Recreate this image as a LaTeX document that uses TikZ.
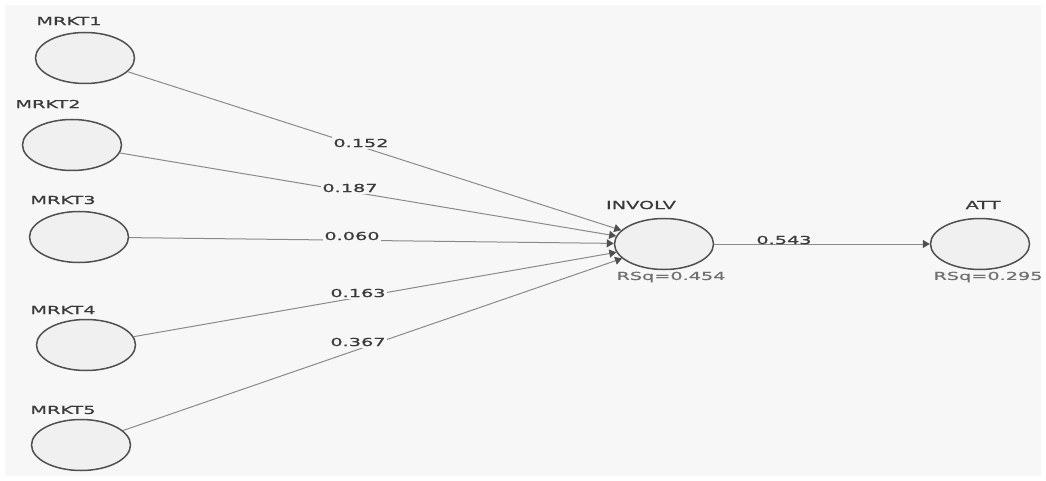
\documentclass[tikz,border=0pt]{standalone}
\usepackage{fontspec}
\newfontfamily\pathfont[FakeStretch=1.75,FakeBold=0.9]{DejaVu Sans}
\usetikzlibrary{shapes.geometric,arrows.meta}
\definecolor{canvas}{HTML}{F7F7F7}
\definecolor{bubble}{HTML}{F0F0F0}
\definecolor{rim}{HTML}{505050}
\definecolor{wire}{HTML}{8A8A8A}
\definecolor{ink}{HTML}{3A3A3A}
\definecolor{rsq}{HTML}{707070}
\tikzset{
  latent/.style={ellipse, draw=rim, fill=bubble, line width=1.5pt,
    minimum width=99pt, minimum height=51pt, inner sep=0pt},
  caption/.style={font=\pathfont\fontsize{11}{12}\selectfont, text=ink, inner sep=1pt},
  rsqlabel/.style={font=\pathfont\fontsize{11}{12}\selectfont, text=rsq, inner sep=1pt},
  coef/.style={font=\pathfont\fontsize{11}{12}\selectfont, text=ink, fill=canvas, inner sep=1.5pt},
  path/.style={draw=wire, line width=1pt,
    -{Triangle[length=7pt,width=8pt,color=rim]}}
}
\begin{document}
\begin{tikzpicture}[x=1pt,y=-1pt]
\useasboundingbox (0,0) rectangle (1046,481);
\fill[white] (0,0) rectangle (1046,481);
\fill[canvas] (5,5) rectangle (1041,476);

% constructs
\node[latent] (m1)  at (85,58)   {};
\node[latent] (m2)  at (72,145)  {};
\node[latent] (m3)  at (79,237)  {};
\node[latent] (m4)  at (86,345)  {};
\node[latent] (m5)  at (81,445)  {};
\node[latent] (inv) at (664,244) {};
\node[latent] (att) at (980,244) {};

% construct names
\node[caption] (t1)   at (69,21)   {MRKT1};
\node[caption] (t2)   at (48,104)  {MRKT2};
\node[caption] (t3)   at (63,200)  {MRKT3};
\node[caption] (t4)   at (63,310)  {MRKT4};
\node[caption] (t5)   at (63,410)  {MRKT5};
\node[caption] (tinv) at (641,205) {INVOLV};
\node[caption] (tatt) at (983,205) {ATT};

% explained variance
\node[rsqlabel] (rinv) at (671,277) {RSq=0.454};
\node[rsqlabel] (ratt) at (988,277) {RSq=0.295};

% structural paths
\draw[path] (m1) -- (inv);
\draw[path] (m2) -- (inv);
\draw[path] (m3) -- (inv);
\draw[path] (m4) -- (inv);
\draw[path] (m5) -- (inv);
\draw[path] (inv) -- (att);

% path coefficients
\node[coef] (c1) at (361,143) {0.152};
\node[coef] (c2) at (350,188) {0.187};
\node[coef] (c3) at (352,236) {0.060};
\node[coef] (c4) at (358,293) {0.163};
\node[coef] (c5) at (358,342) {0.367};
\node[caption] (c6) at (784,240) {0.543};
\end{tikzpicture}
\end{document}
